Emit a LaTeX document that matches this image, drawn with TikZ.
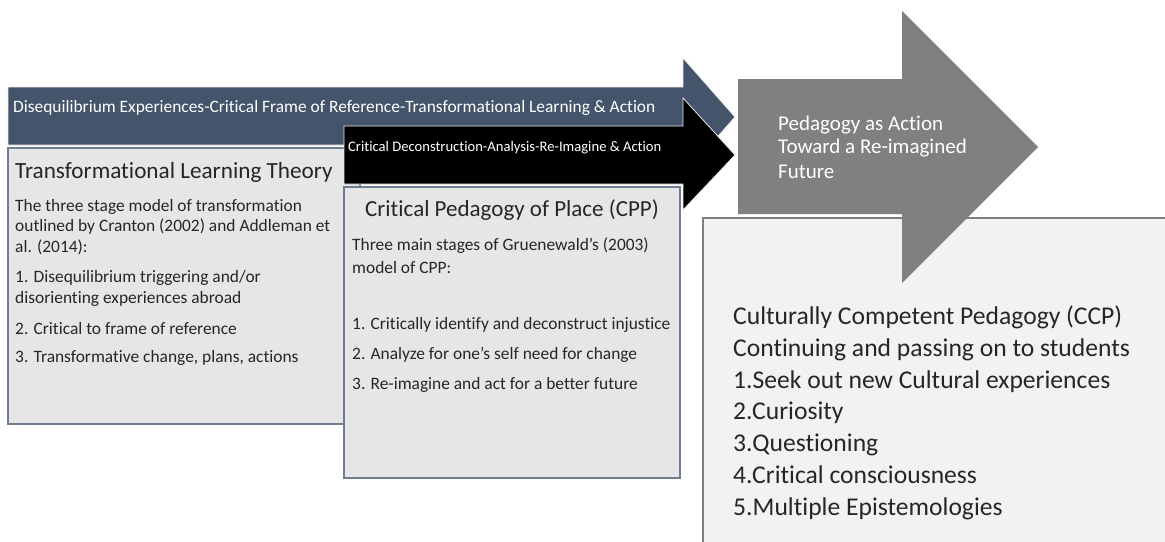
\documentclass[tikz,border=0pt]{standalone}
\usepackage{fontspec}
\setmainfont{Carlito}[Ligatures=NoCommon]
\usetikzlibrary{positioning}

\definecolor{slatearrow}{HTML}{44546A}
\definecolor{greyarrow}{HTML}{808080}
\definecolor{boxfill}{HTML}{E6E6E6}
\definecolor{boxline}{HTML}{6E7D91}
\definecolor{ccpfill}{HTML}{F2F2F2}
\definecolor{ccpline}{HTML}{7F7F7F}
\definecolor{bodytext}{HTML}{262626}

\begin{document}
\begin{tikzpicture}[x=1pt, y=-1pt,
    txt/.style={anchor=west, inner sep=0pt, text=bodytext},
    basetxt/.style={anchor=base west, inner sep=0pt, text=bodytext, font=\fontsize{25.6}{30}\selectfont},
    whitetxt/.style={anchor=west, inner sep=0pt, text=white},
    theorybox/.style={fill=boxfill, draw=boxline, line width=1.2pt}]
    \useasboundingbox (0,0) rectangle (1165,541);
    \clip (0,0) rectangle (1165,541);

    % upper arrow (blue)
    \fill[slatearrow, draw=white!85!gray, line width=0.8pt]
        (8,87) -- (683,87) -- (683,58) -- (735,117) -- (683,176) -- (683,145) -- (8,145) -- cycle;
    \node[whitetxt, font=\fontsize{17.4}{20}\selectfont] (blueText) at (13,108)
        {Disequilibrium Experiences-Critical Frame of Reference-Transformational Learning \& Action};

    % Transformational Learning Theory
    \fill[theorybox] (8,148) rectangle (360,424);
    \node[txt, font=\fontsize{23.2}{27}\selectfont] (tltTitle) at (15,172) {Transformational Learning Theory};
    \node[txt, font=\fontsize{17.4}{20}\selectfont] (tltA) at (15,207) {The three stage model of transformation};
    \node[txt, font=\fontsize{17.4}{20}\selectfont] (tltB) at (15,227) {outlined by Cranton (2002) and Addleman et};
    \node[txt, font=\fontsize{17.4}{20}\selectfont] (tltC) at (15,247) {al. (2014):};
    \node[txt, font=\fontsize{17.4}{20}\selectfont] (tltD) at (15,278) {1. Disequilibrium triggering and/or};
    \node[txt, font=\fontsize{17.4}{20}\selectfont] (tltE) at (15,299) {disorienting experiences abroad};
    \node[txt, font=\fontsize{17.4}{20}\selectfont] (tltF) at (15,329) {2. Critical to frame of reference};
    \node[txt, font=\fontsize{17.4}{20}\selectfont] (tltG) at (15,358) {3. Transformative change, plans, actions};

    % middle arrow (black)
    \fill[black, draw=white!85!gray, line width=0.8pt]
        (344,126) -- (683,126) -- (683,98) -- (735,155) -- (683,210) -- (683,184) -- (344,184) -- cycle;
    \node[whitetxt, font=\fontsize{14.6}{17}\selectfont] (blackText) at (348,148)
        {Critical Deconstruction-Analysis-Re-Imagine \& Action};

    % Critical Pedagogy of Place
    \fill[theorybox] (344,187) rectangle (680,478);
    \node[inner sep=0pt, text=bodytext, font=\fontsize{23}{27}\selectfont] (cppTitle) at (512,210) {Critical Pedagogy of Place (CPP)};
    \node[txt, font=\fontsize{17.4}{20}\selectfont] (cppA) at (352,246) {Three main stages of Gruenewald's (2003)};
    \node[txt, font=\fontsize{17.4}{20}\selectfont] (cppB) at (352,268) {model of CPP:};
    \node[txt, font=\fontsize{17.4}{20}\selectfont] (cppC) at (352,325) {1. Critically identify and deconstruct injustice};
    \node[txt, font=\fontsize{17.4}{20}\selectfont] (cppD) at (352,355) {2. Analyze for one's self need for change};
    \node[txt, font=\fontsize{17.4}{20}\selectfont] (cppE) at (352,385) {3. Re-imagine and act for a better future};

    % Culturally Competent Pedagogy
    \fill[fill=ccpfill, draw=ccpline, line width=1.5pt] (703,218) rectangle (1180,560);
    \node[basetxt] (ccpA) at (733,324) {Culturally Competent Pedagogy (CCP)};
    \node[basetxt] (ccpB) at (733,356) {Continuing and passing on to students};
    \node[basetxt] (ccpC) at (733,388) {1.Seek out new Cultural experiences};
    \node[basetxt] (ccpD) at (733,419) {2.Curiosity};
    \node[basetxt] (ccpE) at (733,451) {3.Questioning};
    \node[basetxt] (ccpF) at (733,483) {4.Critical consciousness};
    \node[basetxt] (ccpG) at (733,515) {5.Multiple Epistemologies};

    % big arrow (grey)
    \fill[greyarrow]
        (738,79) -- (902,79) -- (902,11) -- (1038,147) -- (902,283) -- (902,214) -- (738,214) -- cycle;
    \node[whitetxt, font=\fontsize{21}{24}\selectfont] (greyA) at (778,125) {Pedagogy as Action};
    \node[whitetxt, font=\fontsize{21}{24}\selectfont] (greyB) at (778,148) {Toward a Re-imagined};
    \node[whitetxt, font=\fontsize{21}{24}\selectfont] (greyC) at (778,172) {Future};
\end{tikzpicture}
\end{document}
